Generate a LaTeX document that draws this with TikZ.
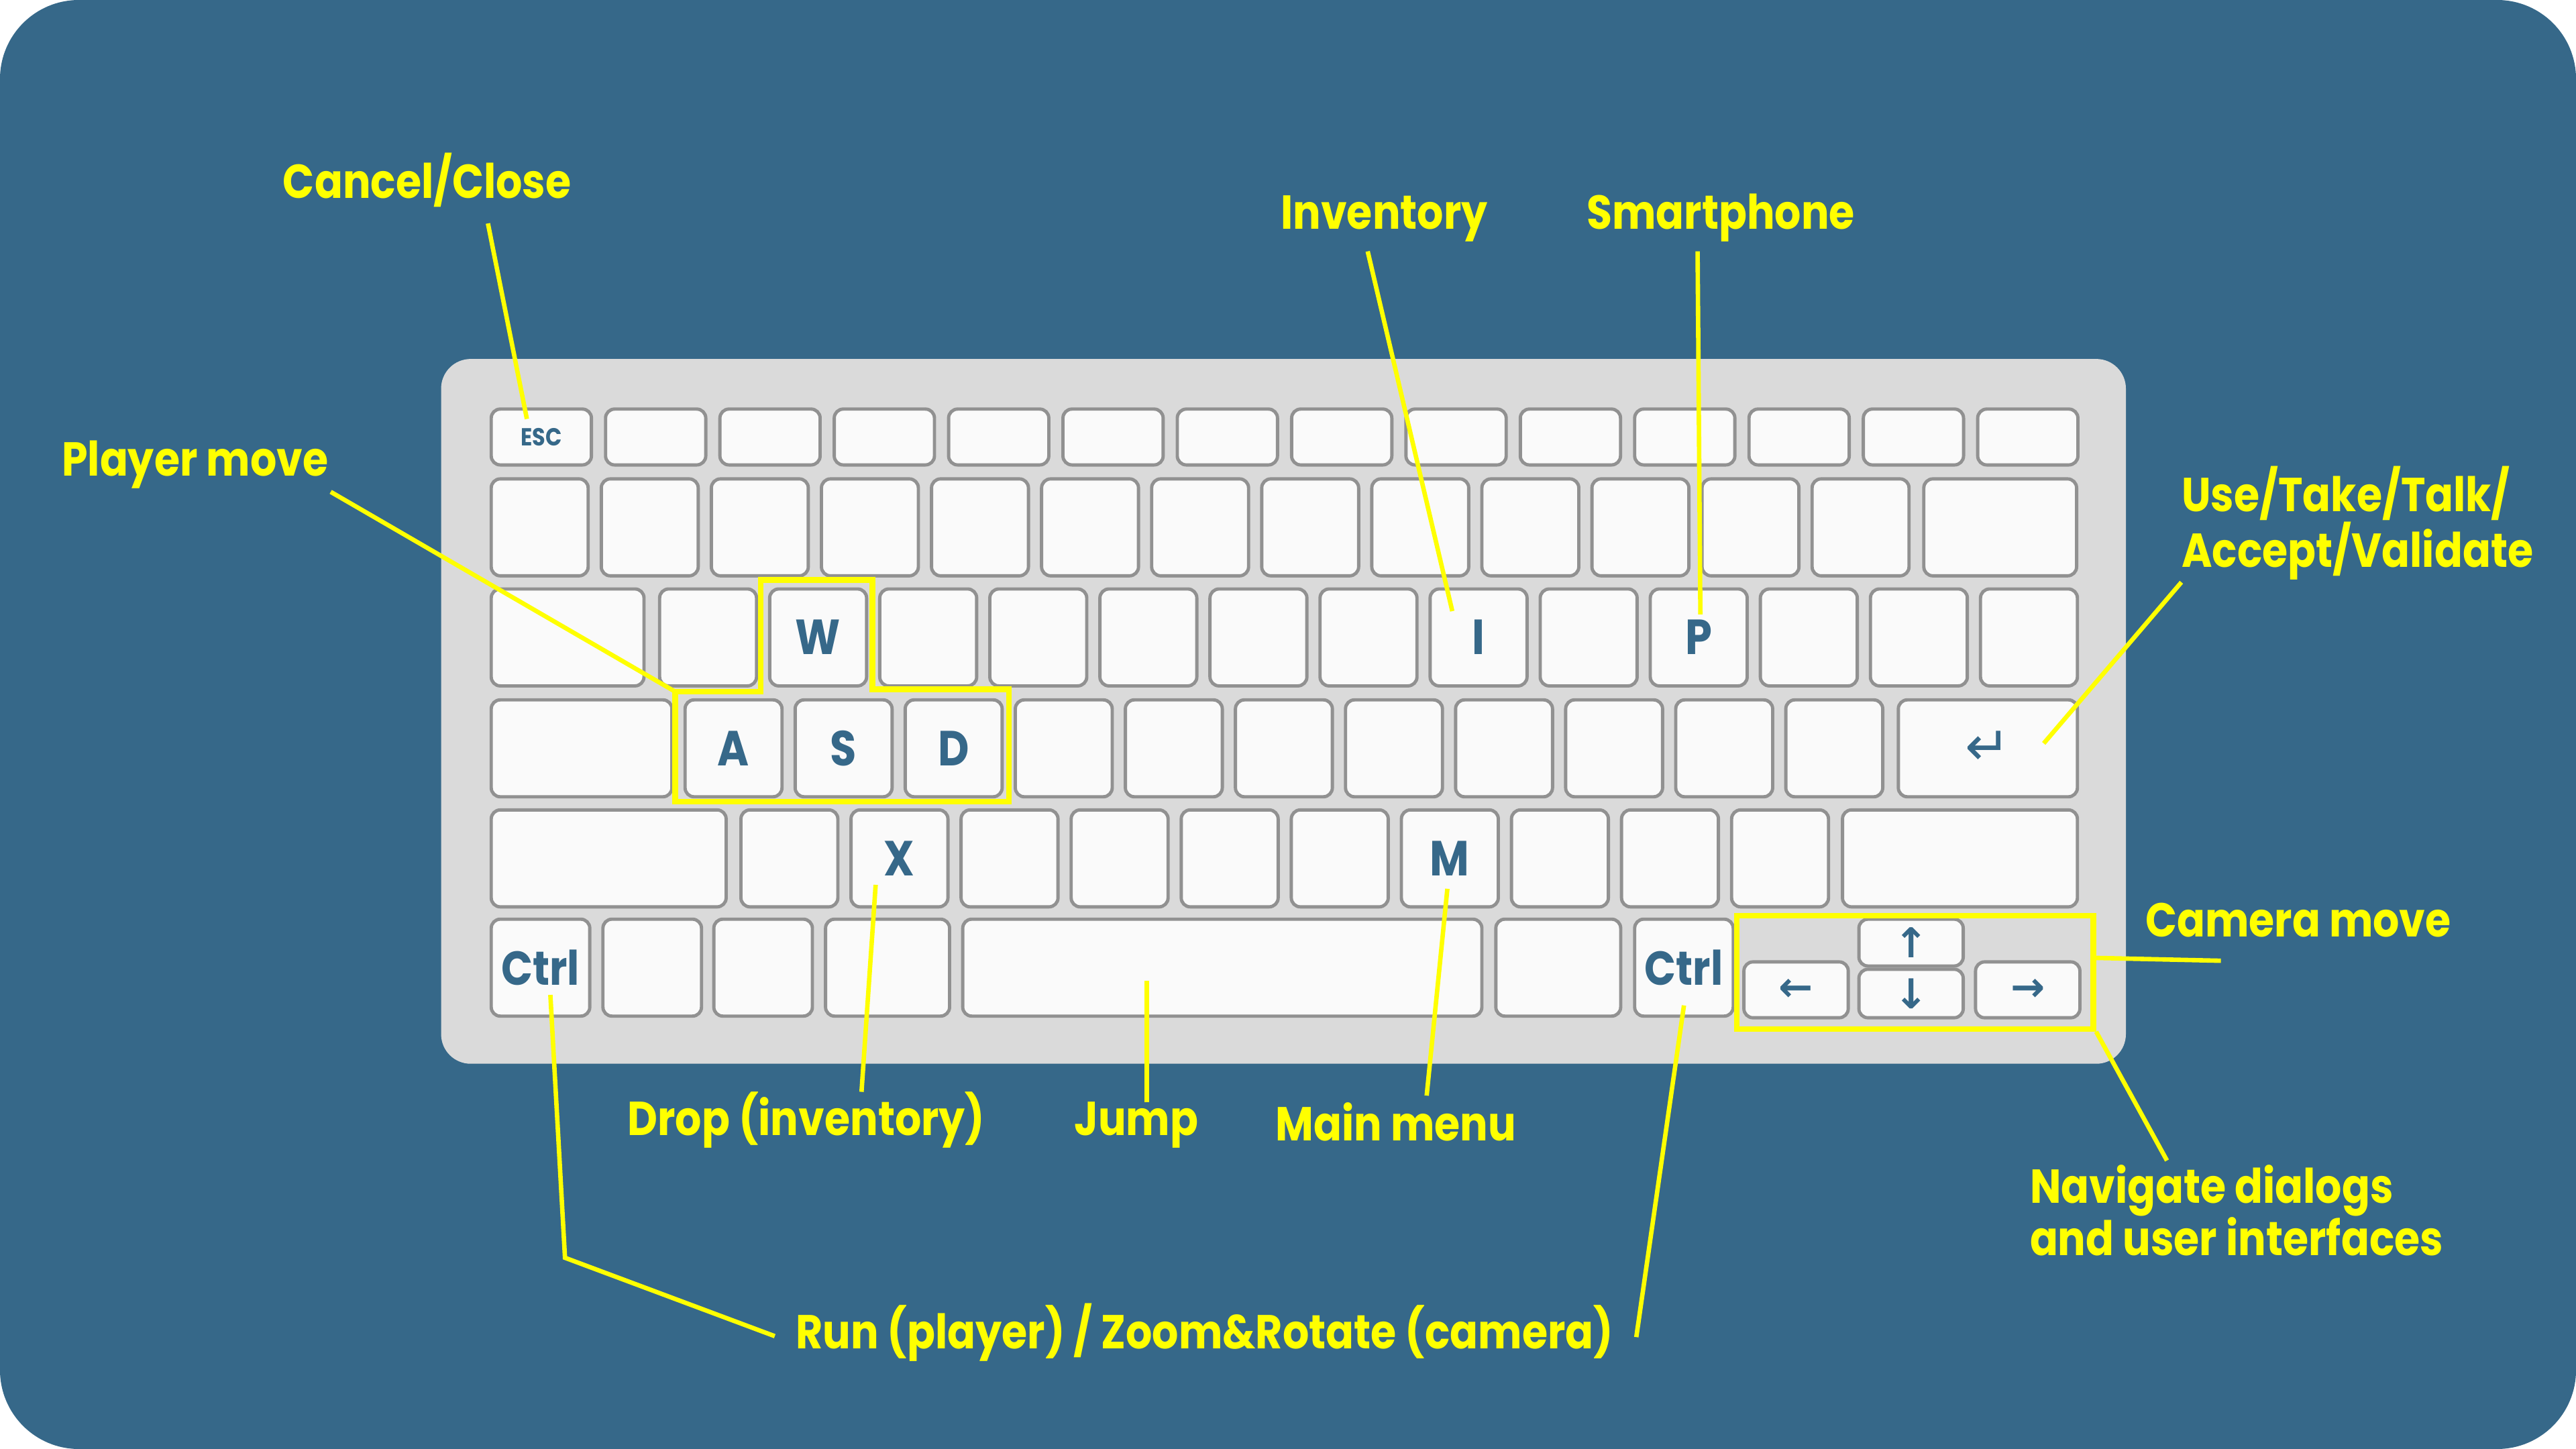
\documentclass[tikz,border=0pt]{standalone}
\usepackage{fontspec}
\setmainfont{Poppins}[FakeStretch=0.87]
\newfontfamily\kbglyph{DejaVu Sans}
\usetikzlibrary{positioning}

\definecolor{fondo}{RGB}{54,104,137}
\definecolor{teclado}{RGB}{218,218,218}
\definecolor{tecla}{RGB}{250,250,250}
\definecolor{borde}{RGB}{145,145,145}
\definecolor{resalte}{RGB}{255,255,0}

\newcommand{\keyfont}{\fontsize{30}{30}\selectfont\bfseries}
\newcommand{\escfont}{\fontsize{15}{15}\selectfont\bfseries}
\newcommand{\ctrlfont}{\fontsize{29}{29}\selectfont\bfseries}
\newcommand{\symfont}{\fontsize{25}{25}\selectfont\kbglyph\bfseries}

\tikzset{
    kbkey/.style={
        draw=borde,
        fill=tecla,
        line width=2pt,
        rounded corners=5.5pt,
        anchor=north west,
        inner sep=0pt,
        minimum width=59pt,
        minimum height=59pt,
        text=fondo,
        font=\keyfont
    },
    fkey/.style={
        minimum width=61pt,
        minimum height=34pt
    },
    arrowkey/.style={
        minimum width=63.5pt,
        minimum height=34pt,
        font=\symfont
    },
    note/.style={
        text=resalte,
        anchor=base,
        inner sep=0pt,
        font=\fontsize{29}{32}\selectfont\bfseries
    },
    callout/.style={
        draw=resalte,
        line width=2.7pt
    },
    frame/.style={
        draw=resalte,
        line width=3.4pt
    }
}

\begin{document}
\begin{tikzpicture}[
    x=1pt,
    y=-1pt
]

    % Lienzo
    \useasboundingbox (0,0) rectangle (1568,882);
    \fill[white] (0,0) rectangle (1568,882);
    \fill[fondo, rounded corners=48pt] (0,0) rectangle (1568,882);

    % Teclado
    \fill[teclado, rounded corners=18pt] (268.5,218.5) rectangle (1294,647.5);

    % Fila 1
    \node[kbkey, fkey, font=\escfont] (esc) at (298,248) {ESC};
    \foreach \i in {1,...,13}
        \node[kbkey, fkey] (f\i) at ({298+69.6*\i},248) {};

    % Fila 2
    \foreach \i in {0,...,12}
        \node[kbkey] (n\i) at ({298+67*\i},290.5) {};
    \node[kbkey, minimum width=93pt] (back) at (1170,290.5) {};

    % Fila 3
    \node[kbkey, minimum width=93pt] (tab) at (298,357.5) {};
    \foreach \t [count=\i from 0] in {{},W,{},{},{},{},{},I,{},P,{},{},{}}
        \node[kbkey] (q\i) at ({400.5+67*\i},357.5) {\t};

    % Fila 4
    \node[kbkey, minimum width=110pt] (caps) at (298,425) {};
    \foreach \t [count=\i from 0] in {A,S,D,{},{},{},{},{},{},{},{}}
        \node[kbkey] (a\i) at ({416+67*\i},425) {\t};
    \node[kbkey, minimum width=109pt, font=\fontsize{33}{33}\selectfont\kbglyph]
        (enter) at (1154.5,425) {↵};

    % Fila 5
    \node[kbkey, minimum width=143pt] (lshift) at (298,492) {};
    \foreach \t [count=\i from 0] in {{},X,{},{},{},{},M,{},{},{}}
        \node[kbkey] (z\i) at ({450+67*\i},492) {\t};
    \node[kbkey, minimum width=143pt] (rshift) at (1120.5,492) {};

    % Fila 6
    \node[kbkey, minimum width=60pt, font=\ctrlfont] (lctrl) at (298,558.5) {Ctrl};
    \node[kbkey, minimum width=60pt] (fn)    at (366,558.5)   {};
    \node[kbkey, minimum width=60pt] (win)   at (433.5,558.5) {};
    \node[kbkey, minimum width=75.5pt] (alt) at (501.5,558.5) {};
    \node[kbkey, minimum width=316pt] (space) at (585,558.5)  {};
    \node[kbkey, minimum width=76pt] (altgr) at (909.5,558.5) {};
    \node[kbkey, minimum width=60pt, font=\ctrlfont] (rctrl) at (994,558.5) {Ctrl};

    % Flechas
    \node[kbkey, arrowkey, minimum height=28.5pt] (up) at (1130.5,558.5) {↑};
    \node[kbkey, arrowkey] (left)  at (1060.5,584.5) {←};
    \node[kbkey, arrowkey, minimum height=29.5pt] (down) at (1130.5,589) {↓};
    \node[kbkey, arrowkey] (right) at (1201.5,584.5) {→};

    % Marcos
    \draw[frame] (463,353) -- (531,353) -- (531,419.5) -- (614,419.5)
        -- (614,488) -- (411,488) -- (411,421) coordinate (wasd) -- (463,421) -- cycle;
    \node[frame, anchor=north west, minimum width=217pt, minimum height=69pt,
        inner sep=0pt] (arrowbox) at (1055.5,555.6) {};

    % Etiquetas
    \node[note] (cancel)     at (260,120.6)    {Cancel/Close};
    \node[note] (player)     at (118.7,289.6)  {Player move};
    \node[note] (inventory)  at (842.6,139.5)  {Inventory};
    \node[note] (smartphone) at (1047.4,139.5) {Smartphone};
    \node[note, anchor=base west, align=left] (usetake) at (1327.8,345.2)
        {Use/Take/Talk/\\Accept/Validate};
    \node[note] (camera)     at (1398.9,570.4) {Camera move};
    \node[note, anchor=base west, align=left] (navigate) at (1235.4,764.3)
        {Navigate dialogs\\and user interfaces};
    \node[note] (drop)       at (490.8,691)    {Drop (inventory)};
    \node[note] (jump)       at (691.7,691)    {Jump};
    \node[note] (mainmenu)   at (849.7,694.2)  {Main menu};
    \node[note] (run)        at (733.2,821)    {Run (player) / Zoom\&Rotate (camera)};

    % Conectores
    \coordinate (cancel-tip)  at (297,136);
    \coordinate (esc-pin)     at (320.7,255);
    \coordinate (player-tip)  at (201.3,299.4);
    \coordinate (inv-tip)     at (832.5,153);
    \coordinate (i-pin)       at (884,372);
    \coordinate (phone-tip)   at (1033.3,153);
    \coordinate (p-pin)       at (1035,374);
    \coordinate (use-tip)     at (1327.8,354.4);
    \coordinate (enter-pin)   at (1244,452.5);
    \coordinate (camera-tip)  at (1351.8,584.8);
    \coordinate (box-pin)     at (1272.8,583);
    \coordinate (nav-tip)     at (1319,706.4);
    \coordinate (drop-tip)    at (524.4,664.6);
    \coordinate (x-pin)       at (533,538.6);
    \coordinate (jump-tip)    at (698,671);
    \coordinate (space-pin)   at (698,597);
    \coordinate (menu-tip)    at (868.4,666.9);
    \coordinate (m-pin)       at (881,541);
    \coordinate (run-tip)     at (471.6,813.3);
    \coordinate (run-bend)    at (343.9,765.6);
    \coordinate (lctrl-pin)   at (335,605.6);
    \coordinate (run-tip2)    at (996,813.9);
    \coordinate (rctrl-pin)   at (1025,612);

    \draw[callout] (cancel-tip) -- (esc-pin);
    \draw[callout] (player-tip) -- (wasd);
    \draw[callout] (inv-tip) -- (i-pin);
    \draw[callout] (phone-tip) -- (p-pin);
    \draw[callout] (use-tip) -- (enter-pin);
    \draw[callout] (box-pin) -- (camera-tip);
    \draw[callout] (arrowbox.south east) -- (nav-tip);
    \draw[callout] (drop-tip) -- (x-pin);
    \draw[callout] (jump-tip) -- (space-pin);
    \draw[callout] (menu-tip) -- (m-pin);
    \draw[callout] (run-tip) -- (run-bend) -- (lctrl-pin);
    \draw[callout] (run-tip2) -- (rctrl-pin);

\end{tikzpicture}
\end{document}
